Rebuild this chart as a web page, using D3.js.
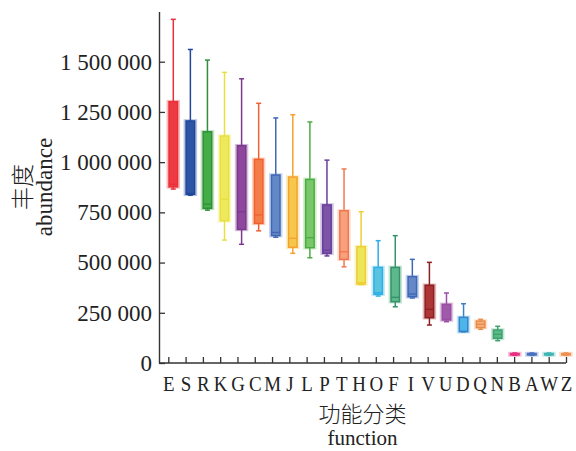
<!DOCTYPE html>
<html>
<head>
<meta charset="utf-8">
<script src="https://cdn.jsdelivr.net/npm/d3@7/dist/d3.min.js"></script>
<style>
  body { margin: 0; background: #fff; }
  text { font-family: "Liberation Serif", "Times New Roman", serif; fill: #222; }
  .cjk { font-family: "Noto Sans CJK SC", sans-serif; font-weight: 300; }
</style>
</head>
<body>
<svg id="chart" width="576" height="451"></svg>
<script>
// Functional categories (x axis)
const categories = ["E","S","R","K","G","C","M","J","L","P","T","H","O","F","I","V","U","D","Q","N","B","A","W","Z"];

// Box statistics per category (abundance)
const maxValues    = [1711000,1561000,1508000,1447000,1415000,1293000,1220000,1236000,1200000,1010000, 966000, 753000, 609000, 634000, 516000, 501000, 348500, 295000, 217500, 182700, 50000, 50000, 50000, 50000];
const q3Values     = [1301000,1205000,1151000,1130000,1082000,1014000, 936000, 926000, 914000, 787000, 758000, 579000, 476000, 476000, 430000, 387000, 292000, 227500, 209000, 164300, 47000, 47000, 47000, 47000];
const medianValues = [ 890000, 845000, 791000, 815000, 753000, 737000, 650000, 621000, 624000, 562000, 554000, 400000, 350000, 327000, 343500, 267000, 217500, 158000, 192600, 142900, 44000, 44000, 44000, 44000];
const q1Values     = [ 877000, 840000, 770000, 708000, 665000, 695000, 634000, 576000, 574000, 546000, 516000, 393000, 342000, 305000, 330000, 225500, 214000, 156000, 176000, 123000, 40000, 40000, 40000, 40000];
const minValues    = [ 866000, 835000, 761000, 612000, 591000, 658000, 626000, 546000, 524000, 533000, 479000, 390000, 333500, 280000, 323600, 189000, 205600, 155000, 167700, 111000, 38000, 38000, 38000, 38000];

// Colours per category
const fillColors   = ["#ee3b43","#2d55a5","#45ad45","#ede95a","#8e479c","#f47c48","#6388c8","#f5c84c","#78c86a","#7d55a8","#f8a07c","#ece65a","#58c4e0","#5cb98c","#6688c8","#ad3535","#a05aaa","#4cb6ea","#f4b07a","#5aba86","#ec3c94","#5a80c8","#50c4c0","#f4a06a"];
const strokeColors = ["#e8303a","#21479a","#2f8f3a","#e8e040","#7a3a8c","#f06030","#3f67b4","#f5a030","#4cac44","#6a3f9a","#f07850","#f0cc38","#2eaee6","#36906a","#3e68b6","#8a1f24","#9a4fa4","#3a80c8","#e88a48","#3fa070","#e8307f","#4a70c0","#40b6b2","#f09050"];

const yTickValues = [0, 250000, 500000, 750000, 1000000, 1250000, 1500000];

const svg = d3.select("#chart");

const y = d3.scaleLinear().domain([0, 1750000]).range([363, 11.5]);
const xTicks = d3.scalePoint().domain(categories).range([168.3, 566]);
const xBoxes = d3.scalePoint().domain(categories).range([173.3, 566]);

const locale = d3.formatLocale({ decimal: ".", thousands: " ", grouping: [3], currency: ["", ""] });
const fmt = locale.format(",d");

// Y axis
const yAxis = svg.append("g")
  .attr("transform", "translate(159,0)")
  .call(d3.axisLeft(y).tickValues(yTickValues).tickFormat(fmt).tickSizeInner(-6).tickSizeOuter(0).tickPadding(7));
yAxis.selectAll("text").style("font-size", "23px").attr("fill", "#222");
yAxis.selectAll("line").attr("stroke", "#333").attr("stroke-width", 1.3);
yAxis.select(".domain").attr("stroke", "#333").attr("stroke-width", 1.4);

// X axis (category letters set slightly condensed so neighbours do not collide)
const xAxis = svg.append("g")
  .attr("transform", "translate(0,363)")
  .call(d3.axisBottom(xTicks).tickSizeInner(-6).tickSizeOuter(0).tickPadding(12));
xAxis.select(".domain").remove();
xAxis.selectAll("text").style("font-size", "22px").attr("fill", "#222")
  .attr("transform", "scale(0.86,1)");
xAxis.selectAll("line").attr("stroke", "#333").attr("stroke-width", 1.3);
svg.append("line")
  .attr("x1", 159).attr("x2", xTicks.range()[1])
  .attr("y1", 363).attr("y2", 363)
  .attr("stroke", "#333").attr("stroke-width", 1.4);

// Boxes
const boxW = 10, capW = 5;
const boxes = svg.append("g").selectAll("g")
  .data(categories.map((c, i) => ({
    c, max: maxValues[i], q3: q3Values[i], med: medianValues[i], q1: q1Values[i], min: minValues[i],
    fill: fillColors[i], stroke: strokeColors[i]
  })))
  .join("g")
  .attr("transform", d => `translate(${xBoxes(d.c)},0)`);

// upper and lower whiskers
boxes.append("line").attr("x1", 0).attr("x2", 0)
  .attr("y1", d => y(d.max)).attr("y2", d => y(d.q3))
  .attr("stroke", d => d.stroke).attr("stroke-width", 1.5);
boxes.append("line").attr("x1", 0).attr("x2", 0)
  .attr("y1", d => y(d.q1)).attr("y2", d => y(d.min))
  .attr("stroke", d => d.stroke).attr("stroke-width", 1.5);
boxes.append("line").attr("x1", -capW / 2).attr("x2", capW / 2)
  .attr("y1", d => y(d.max)).attr("y2", d => y(d.max))
  .attr("stroke", d => d.stroke).attr("stroke-width", 1.5);
boxes.append("line").attr("x1", -capW / 2).attr("x2", capW / 2)
  .attr("y1", d => y(d.min)).attr("y2", d => y(d.min))
  .attr("stroke", d => d.stroke).attr("stroke-width", 1.5);

// soft halo then the box itself
boxes.append("rect")
  .attr("x", -boxW / 2).attr("width", boxW)
  .attr("y", d => y(d.q3)).attr("height", d => Math.max(1, y(d.q1) - y(d.q3)))
  .attr("fill", "none").attr("stroke", d => d.fill).attr("stroke-opacity", 0.35).attr("stroke-width", 3.5);
boxes.append("rect")
  .attr("x", -boxW / 2 + 0.75).attr("width", boxW - 1.5)
  .attr("y", d => y(d.q3)).attr("height", d => Math.max(1, y(d.q1) - y(d.q3)))
  .attr("fill", d => d.fill).attr("stroke", d => d.stroke).attr("stroke-width", 1.5);
boxes.append("line").attr("x1", -boxW / 2 + 0.75).attr("x2", boxW / 2 - 0.75)
  .attr("y1", d => y(d.med)).attr("y2", d => y(d.med))
  .attr("stroke", d => d.stroke).attr("stroke-width", 1.3);

// Axis titles
svg.append("text").attr("class", "cjk")
  .attr("x", 362.5).attr("y", 422).attr("text-anchor", "middle")
  .style("font-size", "22px").attr("fill", "#333").text("功能分类");
svg.append("text")
  .attr("x", 362.5).attr("y", 445).attr("text-anchor", "middle")
  .style("font-size", "21px").text("function");

svg.append("text").attr("class", "cjk")
  .attr("transform", "translate(31,187) rotate(-90)").attr("text-anchor", "middle")
  .style("font-size", "23px").attr("fill", "#333").text("丰度");
svg.append("text")
  .attr("transform", "translate(52,187) rotate(-90)").attr("text-anchor", "middle")
  .style("font-size", "23px").text("abundance");
</script>
</body>
</html>
